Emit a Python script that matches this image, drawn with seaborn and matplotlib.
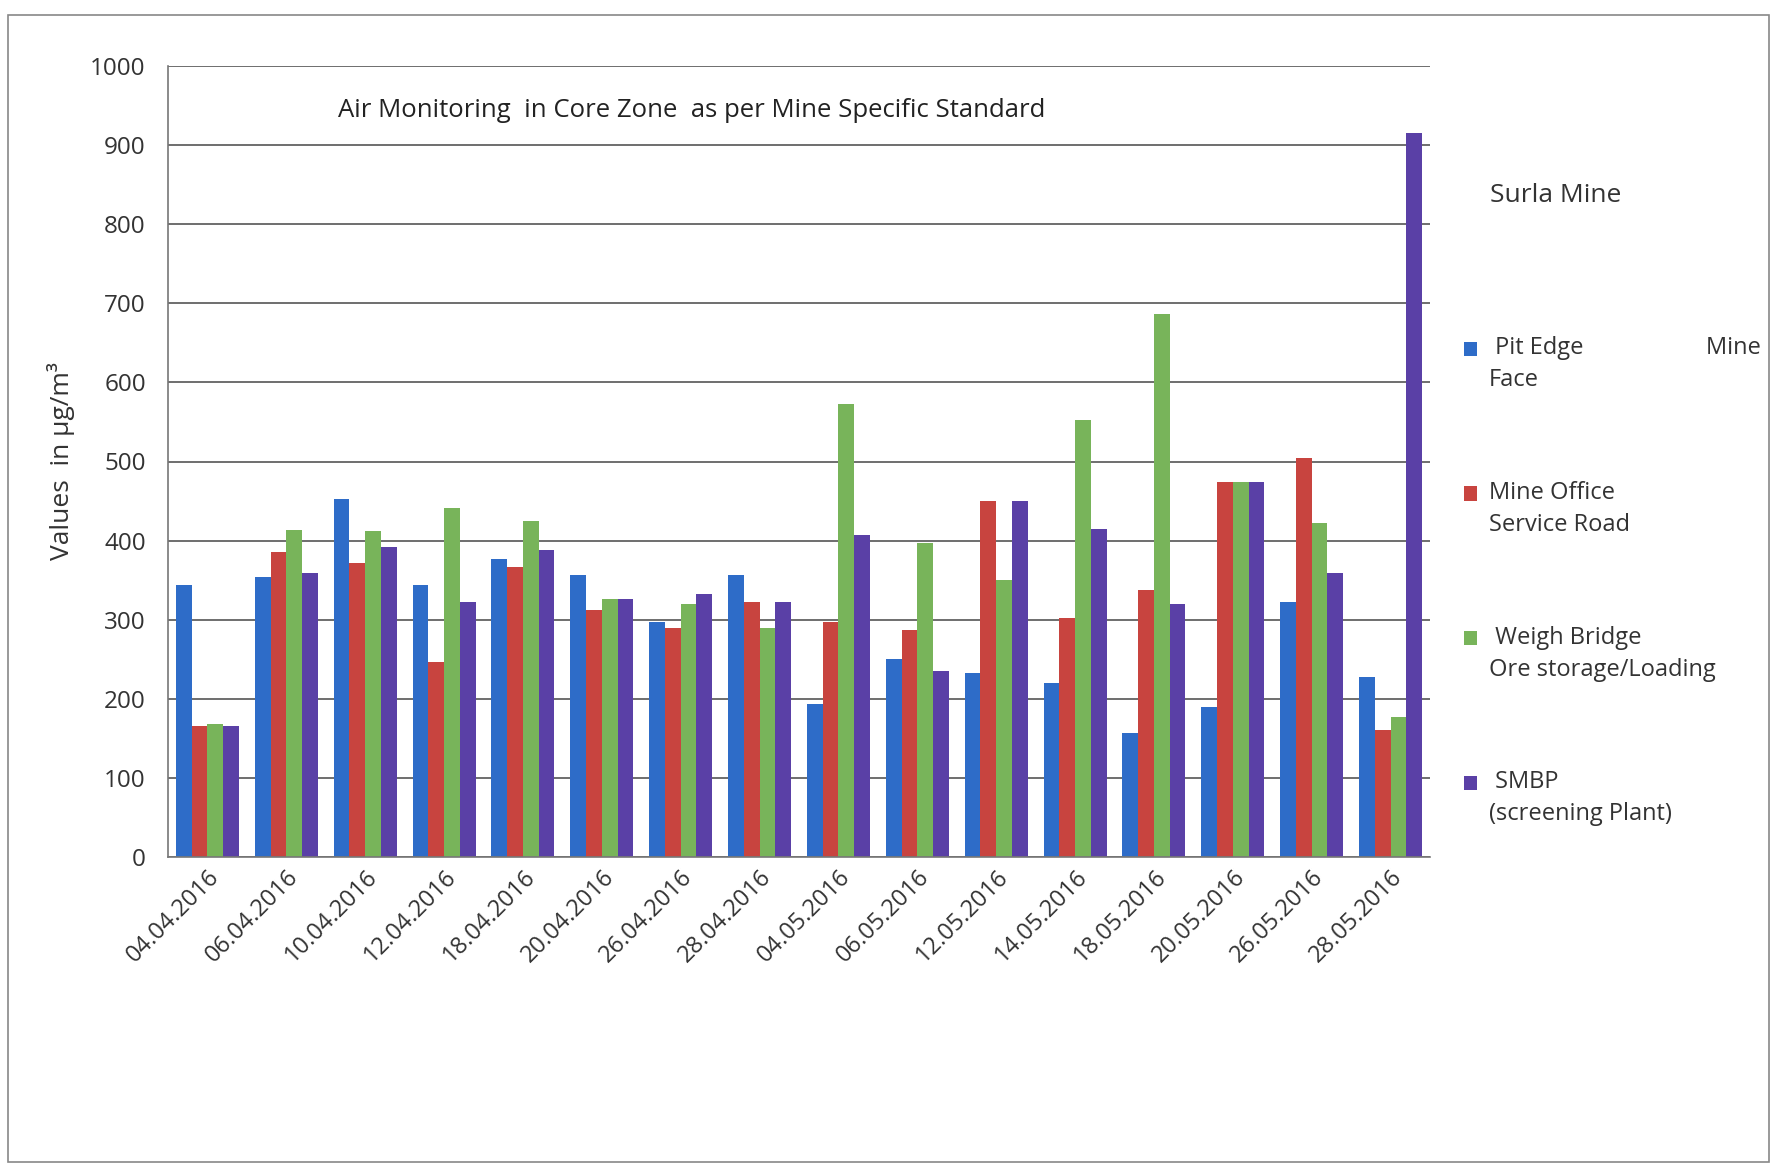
import numpy as np
import pandas as pd
import matplotlib
matplotlib.use("Agg")
import matplotlib.pyplot as plt
import seaborn as sns
from matplotlib.ticker import FixedLocator
from matplotlib.patches import Rectangle
from matplotlib.legend_handler import HandlerPatch

dates = ["04.04.2016", "06.04.2016", "10.04.2016", "12.04.2016", "18.04.2016",
         "20.04.2016", "26.04.2016", "28.04.2016", "04.05.2016", "06.05.2016",
         "12.05.2016", "14.05.2016", "18.05.2016", "20.05.2016", "26.05.2016",
         "28.05.2016"]
series_names = [" Pit Edge                    Mine\nFace",
                "Mine Office\nService Road",
                " Weigh Bridge\nOre storage/Loading",
                " SMBP\n(screening Plant)"]
pit_edge = [344, 354, 453, 344, 377, 356, 297, 356, 193, 250, 233, 220, 157, 190, 323, 228]
mine_office = [165, 386, 372, 247, 367, 312, 290, 323, 297, 287, 450, 302, 338, 474, 505, 160]
weigh_bridge = [168, 414, 412, 441, 425, 326, 320, 290, 573, 397, 350, 553, 687, 474, 422, 177]
smbp = [165, 359, 392, 323, 388, 326, 333, 322, 407, 235, 450, 415, 320, 474, 359, 915]
colors = ["#2e6cc8", "#c8443f", "#78b45a", "#5a40a6"]

rows = []
for name, vals in zip(series_names, [pit_edge, mine_office, weigh_bridge, smbp]):
    for d, v in zip(dates, vals):
        rows.append({"date": d, "value": v, "site": name})
df = pd.DataFrame(rows)

sns.set_theme(style="white")
plt.rcParams["font.family"] = ["Open Sans", "DejaVu Sans"]

fig = plt.figure(figsize=(17.77, 11.67), dpi=100)
ax = fig.add_axes([168 / 1777, 1 - 857 / 1167, (1430 - 168) / 1777, (857 - 66) / 1167])

sns.barplot(data=df, x="date", y="value", hue="site", palette=colors,
            width=0.8, gap=0, saturation=1, ax=ax, errorbar=None,
            edgecolor="none")

ax.set_ylim(0, 1000)
ax.set_yticks(np.arange(0, 1001, 100))
ax.set_xlim(-0.5, len(dates) - 0.5)
ax.yaxis.grid(True, color="#555555", linewidth=1.2)
ax.set_axisbelow(True)
for s in ["top", "right"]:
    ax.spines[s].set_visible(False)
for s in ["left", "bottom"]:
    ax.spines[s].set_color("#777777")
    ax.spines[s].set_linewidth(1.2)

ax.tick_params(axis="y", which="major", direction="out", length=8, color="#777777",
               labelsize=17.5, labelcolor="#333333", pad=8)
ax.tick_params(axis="x", which="major", length=0, labelsize=17, labelcolor="#333333", pad=6)
ax.xaxis.set_minor_locator(FixedLocator(np.arange(-0.5, len(dates), 1.0)))
ax.tick_params(axis="x", which="minor", direction="out", length=8, color="#777777")
plt.setp(ax.get_xticklabels(), rotation=45, ha="right", rotation_mode="anchor")

ax.set_xlabel("")
ax.set_ylabel("Values  in μg/m³", fontsize=19, color="#333333", labelpad=11)

ax.text(0.135, 0.935, "Air Monitoring  in Core Zone  as per Mine Specific Standard",
        transform=ax.transAxes, fontsize=18.5, color="#222222")
fig.text(1490 / 1777, 1 - 195 / 1167, "Surla Mine", fontsize=19, color="#333333",
         va="center")


def top_square(legend, orig_handle, xdescent, ydescent, width, height, fontsize):
    return Rectangle((-xdescent, -ydescent + 0.68 * fontsize), width, height)


handles, labels = ax.get_legend_handles_labels()
leg = ax.legend(handles, labels, loc="upper left", bbox_to_anchor=(1443 / 1777, 1 - 315 / 1167),
                bbox_transform=fig.transFigure, frameon=False, fontsize=17,
                handlelength=0.55, handleheight=0.55, handletextpad=0.5,
                labelspacing=3.75, labelcolor="#333333",
                handler_map={h: HandlerPatch(patch_func=top_square) for h in handles})
for t in leg.get_texts():
    t.set_linespacing(1.45)

fig.patches.append(Rectangle((8 / 1777, 5 / 1167), 1 - 16 / 1777, 1 - 20 / 1167,
                             transform=fig.transFigure, fill=False,
                             edgecolor="#888888", linewidth=1.2))

fig.savefig("out.png", dpi=100)
